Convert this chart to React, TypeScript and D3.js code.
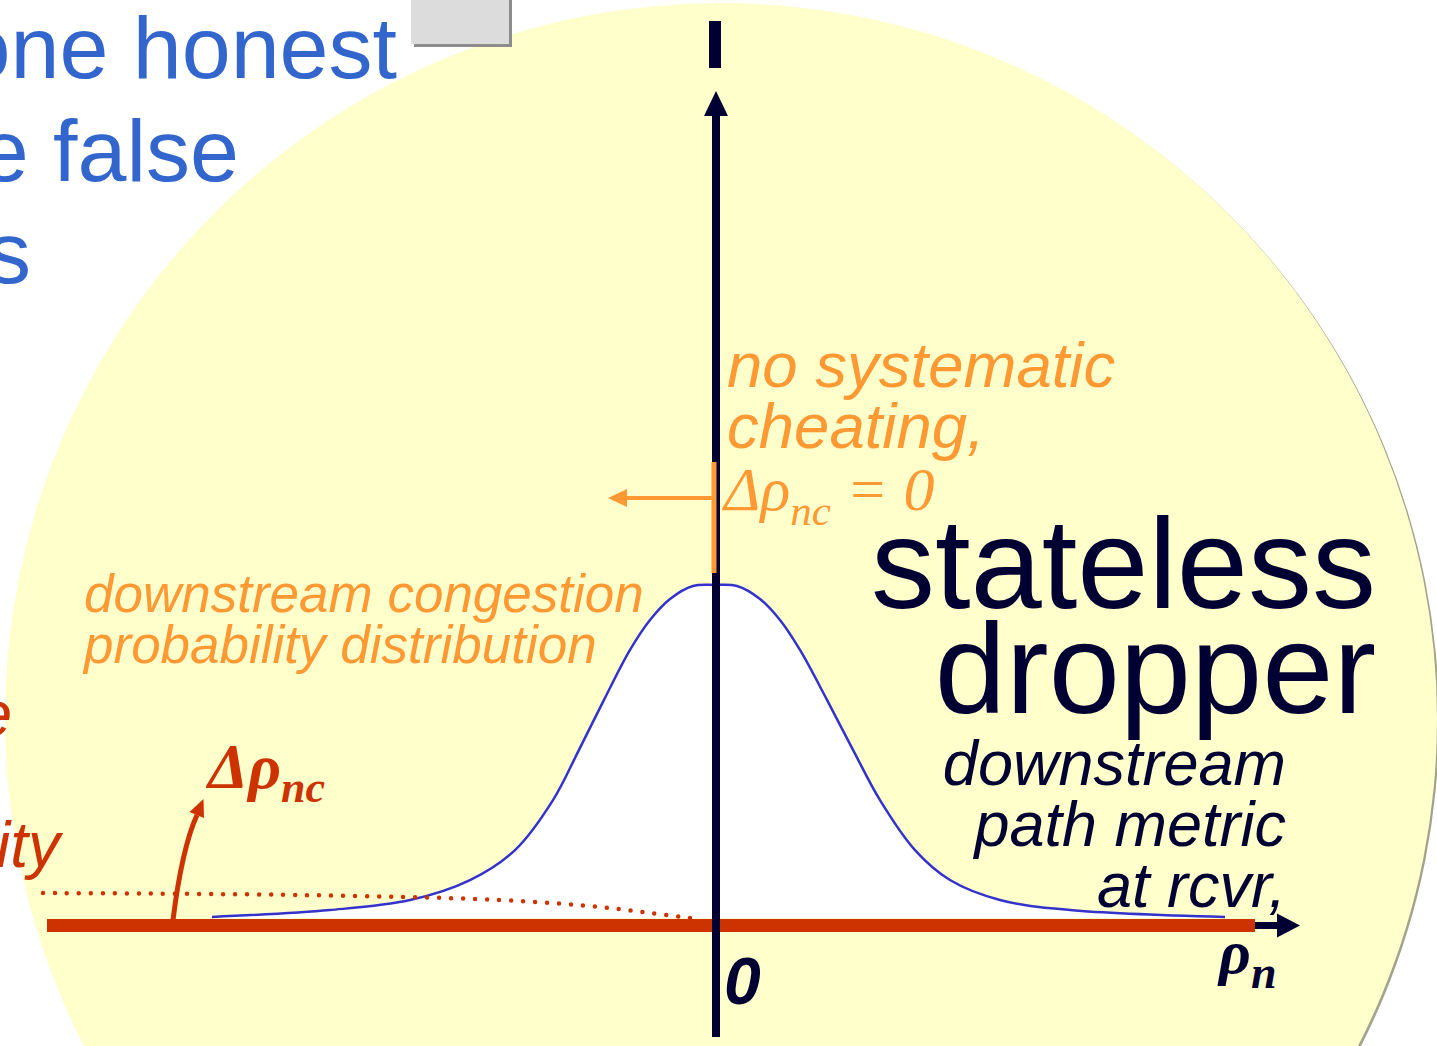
import React from "react";
import * as d3 from "d3";

// ---- data ----
// honest downstream congestion distribution (rho units, density 0..1)
const curveRho = [-5.03, -3.85, -3.05, -2.45, -2.0, -1.62, -1.36, -1.11, -0.85, -0.65, -0.45, -0.22, 0, 0.22, 0.45, 0.65, 0.85, 1.12, 1.38, 1.65, 2.0, 2.35, 2.85, 3.55, 5.1];
const curveDensity = [0.003, 0.024, 0.054, 0.114, 0.204, 0.354, 0.505, 0.655, 0.805, 0.895, 0.958, 0.997, 1, 0.997, 0.958, 0.895, 0.805, 0.655, 0.505, 0.354, 0.204, 0.114, 0.054, 0.024, 0.003];
// cheating (dotted) distribution
const cheatRho = [-6.72, -4.15, -2.15, -1.15, -0.65, -0.25];
const cheatDensity = [0.075, 0.069, 0.054, 0.033, 0.015, 0];
// axis extents (rho units)
const axisRhoMin = -6.68;
const axisRhoRedMax = 5.4;
const axisRhoMax = 5.85;

const blueLines = ["one honest", "e false", "s"];
const orangeTop = ["no systematic", "cheating,"];
const orangeLeft = ["downstream congestion", "probability distribution"];
const titleLines = ["stateless", "dropper"];
const metricLines = ["downstream", "path metric", "at rcvr,"];

const NAVY = "#000033";
const RED = "#CC3300";
const ORANGE = "#FF9933";
const SANS = "'Liberation Sans', Arial, Helvetica, sans-serif";
const SERIF = "'Liberation Serif', 'Times New Roman', serif";

export default function App() {
  const x = d3.scaleLinear().domain([0, 1]).range([715, 815]);
  const y = d3.scaleLinear().domain([0, 1]).range([918, 585]);

  const curvePts: [number, number][] = curveRho.map((r, i) => [r, curveDensity[i]]);
  const cheatPts: [number, number][] = cheatRho.map((r, i) => [r, cheatDensity[i]]);

  const line = d3
    .line<[number, number]>()
    .x((d) => x(d[0]))
    .y((d) => y(d[1]))
    .curve(d3.curveCatmullRom.alpha(0.5));
  const area = d3
    .area<[number, number]>()
    .x((d) => x(d[0]))
    .y0(y(0))
    .y1((d) => y(d[1]))
    .curve(d3.curveCatmullRom.alpha(0.5));

  const x0 = x(0);
  const yBase = 925.5;

  return (
    <svg
      width={1437}
      height={1046}
      style={{ position: "absolute", left: 0, top: 0, display: "block", background: "#fff" }}
    >
      {/* yellow disc with shadow */}
      <circle cx={723} cy={721} r={716} fill="#A3A38C" />
      <circle cx={721} cy={719} r={716} fill="#FFFFCC" />

      {/* grey box at top */}
      <rect x={414} y={-5} width={98} height={52} fill="#8C8C8C" />
      <rect x={411} y={-5} width={98} height={49} fill="#DCDCDC" />

      {/* blue heading fragments */}
      {blueLines.map((t, i) => (
        <text
          key={t}
          x={[397, 239, 31][i]}
          y={78 + i * 102.5}
          textAnchor="end"
          fontFamily={SANS}
          fontSize={88}
          fill="#3366CC"
        >
          {t}
        </text>
      ))}

      {/* red fragments at left */}
      <text x={12} y={736} textAnchor="end" fontFamily={SANS} fontStyle="italic" fontSize={64} fill={RED}>
        e
      </text>
      <text x={60} y={867} textAnchor="end" fontFamily={SANS} fontStyle="italic" fontSize={64} fill={RED}>
        ity
      </text>

      {/* distribution */}
      <path d={area(curvePts) ?? ""} fill="#FFFFFF" />
      <path d={line(curvePts) ?? ""} fill="none" stroke="#3333CC" strokeWidth={2.5} />

      {/* dotted cheating distribution */}
      <path
        d={line(cheatPts) ?? ""}
        fill="none"
        stroke={RED}
        strokeWidth={4.5}
        strokeLinecap="round"
        strokeDasharray="0 12"
      />

      {/* red baseline */}
      <line x1={x(axisRhoMin)} x2={x(axisRhoRedMax)} y1={yBase} y2={yBase} stroke={RED} strokeWidth={13} />

      {/* horizontal axis arrow */}
      <line x1={x(axisRhoRedMax)} x2={x(axisRhoMax) - 20} y1={yBase} y2={yBase} stroke={NAVY} strokeWidth={7} />
      <polygon
        points={`${x(axisRhoMax)},${yBase} ${x(axisRhoMax) - 23},${yBase - 12} ${x(axisRhoMax) - 23},${yBase + 12}`}
        fill={NAVY}
      />

      {/* vertical axis */}
      <line x1={x0 + 1} x2={x0 + 1} y1={110} y2={1037} stroke={NAVY} strokeWidth={8} />
      <polygon points={`${x0 + 1},${91} ${x0 - 11},${116} ${x0 + 13},${116}`} fill={NAVY} />
      <line x1={x0} x2={x0} y1={21} y2={68} stroke={NAVY} strokeWidth={12} />

      {/* orange marker & arrow */}
      <line x1={x0 - 1} x2={x0 - 1} y1={462} y2={573} stroke={ORANGE} strokeWidth={5} />
      <line x1={x0 - 2} x2={622} y1={498} y2={498} stroke={ORANGE} strokeWidth={4} />
      <polygon points={`608,498 627,489 627,507`} fill={ORANGE} />

      {/* red curved arrow */}
      <path d="M173,920 Q182,848 197,815" fill="none" stroke={RED} strokeWidth={5} />
      <polygon points="203.5,799 204,818 189.5,812" fill={RED} />

      {/* red delta rho nc */}
      <text x={208} y={788} fontFamily={SERIF} fontStyle="italic" fontWeight="bold" fontSize={64} fill={RED}>
        Δρ
        <tspan fontSize={44} dy={14}>
          nc
        </tspan>
      </text>

      {/* orange annotation top */}
      {orangeTop.map((t, i) => (
        <text
          key={t}
          x={727}
          y={387 + i * 61}
          fontFamily={SANS}
          fontStyle="italic"
          fontSize={63.5}
          fill={ORANGE}
        >
          {t}
        </text>
      ))}
      <text x={724} y={510} fontFamily={SERIF} fontStyle="italic" fontSize={62} fill={ORANGE}>
        Δρ
        <tspan fontSize={43} dy={15}>
          nc
        </tspan>
        <tspan fontSize={62} dy={-15}>
          {" = 0"}
        </tspan>
      </text>

      {/* orange annotation left */}
      {orangeLeft.map((t, i) => (
        <text
          key={t}
          x={84}
          y={612 + i * 51}
          fontFamily={SANS}
          fontStyle="italic"
          fontSize={53}
          fill={ORANGE}
        >
          {t}
        </text>
      ))}

      {/* title */}
      {titleLines.map((t, i) => (
        <text
          key={t}
          x={1376}
          y={608 + i * 105}
          textAnchor="end"
          fontFamily={SANS}
          fontSize={128}
          fill={NAVY}
        >
          {t}
        </text>
      ))}

      {/* metric description */}
      {metricLines.map((t, i) => (
        <text
          key={t}
          x={1286}
          y={[785, 846, 907][i]}
          textAnchor="end"
          fontFamily={SANS}
          fontStyle="italic"
          fontSize={63}
          fill={NAVY}
        >
          {t}
        </text>
      ))}

      {/* axis labels */}
      <text x={724} y={1004} fontFamily={SANS} fontStyle="italic" fontWeight="bold" fontSize={66} fill={NAVY}>
        0
      </text>
      <text x={1219} y={973} fontFamily={SERIF} fontStyle="italic" fontWeight="bold" fontSize={62} fill={NAVY}>
        ρ
        <tspan fontSize={46} dy={15}>
          n
        </tspan>
      </text>
    </svg>
  );
}
